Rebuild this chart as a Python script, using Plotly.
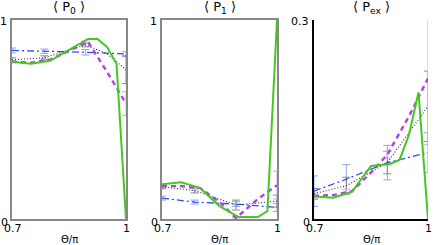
import plotly.graph_objects as go

# ---------------- data ----------------
X_FINE = [0.7, 0.75, 0.8, 0.85, 0.9, 0.925, 0.95, 0.975, 1.0]
X_ERR = [0.7, 0.785, 0.893, 1.0]

# Panel 1 <P0>
p0_blue = [0.847, 0.843, 0.838, 0.829]
p0_gray_x = [0.7, 0.785, 0.893, 0.95, 1.0]
p0_gray = [0.80, 0.81, 0.875, 0.83, 0.75]
p0_purple_x = [0.7, 0.75, 0.8, 0.85, 0.9, 0.95, 1.0]
p0_purple = [0.79, 0.785, 0.80, 0.845, 0.89, 0.74, 0.58]
p0_green = [0.79, 0.78, 0.795, 0.85, 0.905, 0.905, 0.865, 0.78, 0.0]
p0_blue_err = [0.012, 0.011, 0.014, 0.012]
p0_gray_err_y = [0.80, 0.81, 0.875, 0.75]
p0_gray_err = [0.01, 0.01, 0.01, 0.07]
p0_purple_err_y = [0.79, 0.80, 0.89, 0.58]
p0_purple_err = [0.005, 0.005, 0.005, 0.06]

# Panel 2 <P1>
p1_blue = [0.105, 0.085, 0.075, 0.058]
p1_gray = [0.162, 0.143, 0.07, 0.09]
p1_purple_x = [0.7, 0.75, 0.8, 0.85, 0.893, 0.95, 1.0]
p1_purple = [0.165, 0.165, 0.155, 0.085, 0.005, 0.10, 0.17]
p1_green = [0.175, 0.185, 0.155, 0.065, 0.01, 0.01, 0.01, 0.04, 1.0]
p1_blue_err = [0.01, 0.01, 0.012, 0.02]
p1_gray_err = [0.01, 0.012, 0.025, 0.03]
p1_purple_err_y = [0.165, 0.15, 0.005, 0.17]
p1_purple_err = [0.005, 0.005, 0.005, 0.07]

# Panel 3 <Pex>
pex_blue = [0.042, 0.06, 0.085, 0.10]
pex_gray = [0.038, 0.05, 0.085, 0.17]
pex_purple_x = [0.7, 0.75, 0.8, 0.85, 0.893, 0.95, 1.0]
pex_purple = [0.035, 0.036, 0.042, 0.07, 0.097, 0.155, 0.212]
pex_green = [0.034, 0.032, 0.041, 0.080, 0.083, 0.089, 0.127, 0.191, 0.0]
pex_blue_err = [0.023, 0.022, 0.026, 0.03]
pex_gray_err = [0.008, 0.013, 0.017, 0.053]
pex_purple_err_y = [0.035, 0.041, 0.097, 0.212]
pex_purple_err = [0.004, 0.004, 0.005, 0.1]

TITLES = ["⟨ P<sub>0</sub> ⟩", "⟨ P<sub>1</sub> ⟩", "⟨ P<sub>ex</sub> ⟩"]
Y_MAX = [1, 1, 0.3]
Y_TICKTEXT = [["0", "1"], ["0", "1"], ["0", "0.3"]]
X_TICKVALS = [0.7, 1.0]
X_TICKTEXT = ["0.7", "1"]
X_TITLE = "Θ/π"

BLUE = "#2a4cf5"
BLUE_ERR = "#93a3f5"
GRAY = "#333333"
GRAY_ERR = "#8a8a8a"
PURPLE = "#b040ea"
PURPLE_ERR = "#d3a6f0"
GREEN = "#45c81e"

W, H = 436, 245
PX_LEFT = [12, 162, 314]
PX_RIGHT = [126, 277, 428]
PX_TOP, PX_BOT = 20, 219
x_dom = [(l / W, r / W) for l, r in zip(PX_LEFT, PX_RIGHT)]
y_dom = (1 - PX_BOT / H, 1 - PX_TOP / H)

panels = [
    dict(blue=p0_blue, gray_x=p0_gray_x, gray=p0_gray, purple_x=p0_purple_x, purple=p0_purple,
         green=p0_green, blue_err=p0_blue_err, gray_err_y=p0_gray_err_y, gray_err=p0_gray_err,
         purple_err_y=p0_purple_err_y, purple_err=p0_purple_err),
    dict(blue=p1_blue, gray_x=X_ERR, gray=p1_gray, purple_x=p1_purple_x, purple=p1_purple,
         green=p1_green, blue_err=p1_blue_err, gray_err_y=p1_gray, gray_err=p1_gray_err,
         purple_err_y=p1_purple_err_y, purple_err=p1_purple_err),
    dict(blue=pex_blue, gray_x=X_ERR, gray=pex_gray, purple_x=pex_purple_x, purple=pex_purple,
         green=pex_green, blue_err=pex_blue_err, gray_err_y=pex_gray, gray_err=pex_gray_err,
         purple_err_y=pex_purple_err_y, purple_err=pex_purple_err),
]

fig = go.Figure()
FONT = "DejaVu Sans, Verdana, sans-serif"
TICKSIZE = 11


def py(px):
    return 1 - px / H


for i, p in enumerate(panels):
    n = "" if i == 0 else str(i + 1)
    xa, ya = "x" + n, "y" + n

    def err_trace(xs, ys, errs, col):
        return go.Scatter(x=xs, y=ys, xaxis=xa, yaxis=ya, mode="markers",
                          marker=dict(size=1, color="rgba(0,0,0,0)"),
                          error_y=dict(type="data", array=errs, color=col, thickness=1, width=4),
                          showlegend=False, hoverinfo="skip")

    fig.add_trace(err_trace(X_ERR, p["blue"], p["blue_err"], BLUE_ERR))
    fig.add_trace(err_trace(X_ERR, p["gray_err_y"], p["gray_err"], GRAY_ERR))
    fig.add_trace(err_trace(X_ERR, p["purple_err_y"], p["purple_err"], PURPLE_ERR))

    fig.add_trace(go.Scatter(x=X_ERR, y=p["blue"], xaxis=xa, yaxis=ya, mode="lines",
                             line=dict(color=BLUE, width=1.3, dash="7px,3px,2px,3px"), showlegend=False))
    fig.add_trace(go.Scatter(x=p["gray_x"], y=p["gray"], xaxis=xa, yaxis=ya, mode="lines",
                             line=dict(color=GRAY, width=1.1, dash="1px,2px"), showlegend=False))
    fig.add_trace(go.Scatter(x=p["purple_x"], y=p["purple"], xaxis=xa, yaxis=ya, mode="lines",
                             line=dict(color=PURPLE, width=2.4, dash="5px,4px"), showlegend=False))
    fig.add_trace(go.Scatter(x=X_FINE, y=p["green"], xaxis=xa, yaxis=ya, mode="lines",
                             line=dict(color=GREEN, width=2), showlegend=False))

    axcol = "#000000" if i == 2 else "#888888"
    mirror = False if i == 2 else True
    fig.layout["xaxis" + n] = dict(
        domain=x_dom[i], range=[0.7, 1.0], anchor=ya, showgrid=False, zeroline=False,
        showline=True, linecolor=axcol, linewidth=1.5, mirror=mirror,
        tickvals=X_TICKVALS, showticklabels=False, ticks="",
    )
    fig.layout["yaxis" + n] = dict(
        domain=y_dom, range=[0, Y_MAX[i]], anchor=xa, showgrid=False, zeroline=False,
        showline=True, linecolor=axcol, linewidth=1.5, mirror=mirror,
        tickvals=[0, Y_MAX[i]], showticklabels=False, ticks="",
    )
    tf = dict(size=TICKSIZE, family=FONT, color="black")
    # y tick labels
    fig.add_annotation(x=x_dom[i][0], y=py(PX_TOP + 1), xref="paper", yref="paper",
                       text=Y_TICKTEXT[i][1], showarrow=False, font=tf,
                       xanchor="right", yanchor="middle", xshift=-3)
    fig.add_annotation(x=x_dom[i][0], y=py(PX_BOT + 3), xref="paper", yref="paper",
                       text=Y_TICKTEXT[i][0], showarrow=False, font=tf,
                       xanchor="right", yanchor="middle", xshift=-2)
    # x tick labels
    for xv, xt in zip(X_TICKVALS, X_TICKTEXT):
        fx = x_dom[i][0] + (xv - 0.7) / 0.3 * (x_dom[i][1] - x_dom[i][0])
        fig.add_annotation(x=fx, y=py(PX_BOT + 9), xref="paper", yref="paper",
                           text=xt, showarrow=False, font=tf,
                           xanchor="center", yanchor="middle", xshift=1 if xv == 0.7 else 0)
    cx = (x_dom[i][0] + x_dom[i][1]) / 2
    fig.add_annotation(x=cx, y=py(8), xref="paper", yref="paper", text=TITLES[i],
                       showarrow=False, font=dict(size=13, family=FONT, color="black"),
                       xanchor="center", yanchor="middle")
    fig.add_annotation(x=cx, y=py(239), xref="paper", yref="paper", text=X_TITLE,
                       showarrow=False, font=dict(size=10, family=FONT, color="black"),
                       xanchor="center", yanchor="middle")

fig.update_layout(width=W, height=H, margin=dict(l=0, r=0, t=0, b=0),
                  paper_bgcolor="white", plot_bgcolor="white", showlegend=False)

fig.write_html("out.html", config={"displayModeBar": False},
               post_script="document.body.style.margin='0';")
